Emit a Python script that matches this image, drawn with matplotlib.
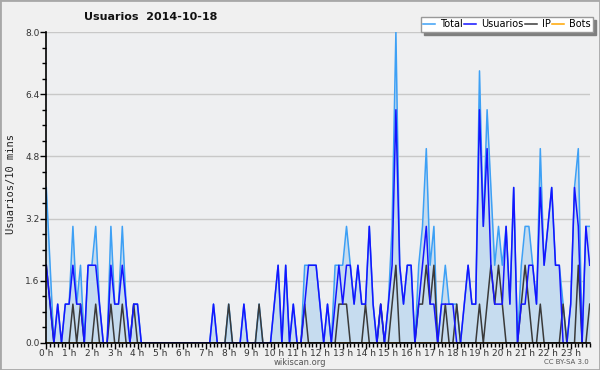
import matplotlib
matplotlib.use("Agg")
import matplotlib.pyplot as plt
from matplotlib.ticker import MultipleLocator, FixedLocator
from matplotlib.patches import Rectangle

# 10-minute slots (144 per day)
usuarios = [
    2, 1, 0, 1, 0, 1,   1, 2, 1, 1, 0, 2,   2, 2, 1, 0, 0, 2,   1, 1, 2, 1, 0, 1,
    1, 0, 0, 0, 0, 0,   0, 0, 0, 0, 0, 0,   0, 0, 0, 0, 0, 0,   0, 0, 1, 0, 0, 0,
    0, 0, 0, 0, 1, 0,   0, 0, 0, 0, 0, 0,   1, 2, 0, 2, 0, 1,   0, 0, 1, 2, 2, 2,
    1, 0, 1, 0, 1, 2,   1, 2, 2, 1, 2, 1,   1, 3, 1, 0, 1, 0,   1, 2, 6, 2, 1, 2,
    2, 0, 1, 2, 3, 1,   1, 0, 1, 1, 1, 1,   0, 0, 1, 2, 1, 1,   6, 3, 5, 2, 1, 1,
    1, 3, 1, 4, 0, 1,   1, 2, 2, 1, 4, 2,   3, 4, 2, 2, 0, 0,   1, 4, 3, 0, 3, 2,
]
total = [
    4, 2, 0, 1, 0, 1,   1, 3, 1, 2, 0, 2,   2, 3, 1, 0, 0, 3,   1, 1, 3, 1, 0, 1,
    1, 0, 0, 0, 0, 0,   0, 0, 0, 0, 0, 0,   0, 0, 0, 0, 0, 0,   0, 0, 1, 0, 0, 0,
    1, 0, 0, 0, 1, 0,   0, 0, 1, 0, 0, 0,   1, 2, 0, 2, 0, 1,   0, 0, 2, 2, 2, 2,
    1, 0, 1, 0, 2, 2,   2, 3, 2, 1, 2, 1,   1, 3, 1, 0, 1, 0,   1, 3, 8, 2, 1, 2,
    2, 0, 2, 3, 5, 2,   3, 0, 1, 2, 1, 1,   1, 0, 1, 2, 1, 1,   7, 3, 6, 4, 2, 3,
    2, 3, 1, 4, 0, 2,   3, 3, 2, 1, 5, 2,   3, 4, 2, 2, 1, 0,   1, 4, 5, 0, 3, 3,
]
ip = [
    2, 1, 0, 0, 0, 0,   0, 1, 0, 1, 0, 0,   0, 1, 0, 0, 0, 1,   0, 0, 1, 0, 0, 1,
    0, 0, 0, 0, 0, 0,   0, 0, 0, 0, 0, 0,   0, 0, 0, 0, 0, 0,   0, 0, 0, 0, 0, 0,
    1, 0, 0, 0, 0, 0,   0, 0, 1, 0, 0, 0,   0, 0, 0, 0, 0, 0,   0, 0, 1, 0, 0, 0,
    0, 0, 0, 0, 0, 1,   1, 1, 0, 0, 0, 0,   1, 0, 0, 0, 1, 0,   0, 1, 2, 0, 0, 0,
    0, 0, 1, 1, 2, 1,   2, 0, 0, 1, 0, 0,   1, 0, 0, 0, 0, 0,   1, 0, 1, 2, 1, 2,
    1, 0, 0, 0, 0, 1,   2, 1, 0, 0, 1, 0,   0, 0, 0, 0, 1, 0,   0, 0, 2, 0, 0, 1,
]
bots = [0] * 144
hour_labels = [f"{h} h" for h in range(24)]
y_ticks = [0.0, 1.6, 3.2, 4.8, 6.4, 8.0]

x = list(range(len(total)))

fig = plt.figure(figsize=(6.0, 3.7), dpi=100, facecolor="#f0f0f0")
ax = fig.add_axes([46.3 / 600, 1 - 343 / 370, (589.7 - 46.3) / 600, (343 - 32) / 370])
ax.set_facecolor("#eeeff1")

c_total = "#3da0f5"
c_user = "#1414ff"
c_ip = "#3a3a3a"
c_bots = "#ffa500"

ax.fill_between(x, 0, total, color="#c6dcef", lw=0, zorder=1)
ax.plot(x, bots, color=c_bots, lw=1.1, zorder=1.5, label="Bots")
ax.plot(x, total, color=c_total, lw=1.1, zorder=2, label="Total")
ax.plot(x, ip, color=c_ip, lw=1.1, zorder=3, label="IP")
ax.plot(x, usuarios, color=c_user, lw=1.1, zorder=4, label="Usuarios")

ax.set_xlim(0, 143)
ax.set_ylim(0, 8.0)

ax.yaxis.set_major_locator(FixedLocator(y_ticks))
ax.yaxis.set_minor_locator(MultipleLocator(0.4))
ax.set_yticklabels([f"{v:.1f}" for v in y_ticks])
ax.xaxis.set_major_locator(FixedLocator([6 * h for h in range(24)]))
ax.xaxis.set_minor_locator(MultipleLocator(1))
ax.set_xticklabels(hour_labels)

ax.tick_params(axis="both", which="major", direction="out", length=4, width=1,
               color="black", labelsize=6.5, labelcolor="#333333", pad=1)
ax.tick_params(axis="both", which="minor", direction="out", length=3, width=1, color="black")
ax.tick_params(axis="x", which="major", pad=0)

ax.grid(axis="y", which="major", color="#c8c8c8", lw=1, zorder=0)
ax.set_axisbelow(True)
for s in ["top", "right"]:
    ax.spines[s].set_visible(False)
for s in ["left", "bottom"]:
    ax.spines[s].set_color("black")
    ax.spines[s].set_linewidth(1.2)
    ax.spines[s].set_zorder(5)

fig.text(151 / 600, 1 - 17 / 370, "Usuarios  2014-10-18", ha="center", va="center",
         fontsize=8, fontweight="bold", color="#111111")
fig.text(11 / 600, 1 - 184 / 370, "Usuarios/10 mins", rotation=90, ha="center", va="center",
         fontsize=7.5, family="DejaVu Sans Mono", color="#222222")
fig.text(300 / 600, 1 - 362.5 / 370, "wikiscan.org", ha="center", va="center",
         fontsize=6, color="#555555")
fig.text(566 / 600, 1 - 362.5 / 370, "CC BY-SA 3.0", ha="center", va="center",
         fontsize=5, color="#555555")

handles, labels = ax.get_legend_handles_labels()
order = ["Total", "Usuarios", "IP", "Bots"]
hmap = dict(zip(labels, handles))
leg = fig.legend([hmap[k] for k in order], order, ncol=4, loc="upper right",
                 bbox_to_anchor=(593 / 600, 1 - 17 / 370), fontsize=7,
                 frameon=True, fancybox=False, framealpha=1,
                 edgecolor="#999999", facecolor="white",
                 shadow={"ox": 2.2, "oy": -2.2, "color": "#7f7f7f", "alpha": 1},
                 handlelength=1.2, handletextpad=0.5, columnspacing=0.2,
                 borderpad=0.25, borderaxespad=0)
leg.get_frame().set_linewidth(1)

fig.patches.append(Rectangle((0, 0), 1, 1, transform=fig.transFigure, fill=False,
                             edgecolor="#a8a8a8", lw=2, zorder=10))

fig.savefig("out.png", dpi=100, facecolor=fig.get_facecolor())
